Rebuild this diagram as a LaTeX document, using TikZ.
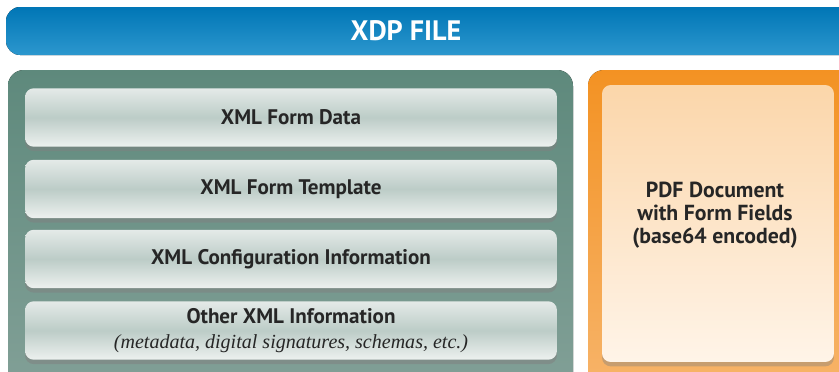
\documentclass[tikz,border=0pt]{standalone}
\usepackage{fontspec}
\setmainfont{PT Sans}
\newfontfamily\noteserif{Liberation Serif}
\usetikzlibrary{shadows}

\definecolor{barTop}{HTML}{0076B6}
\definecolor{barBot}{HTML}{2C97CE}
\definecolor{greenTop}{HTML}{5E897C}
\definecolor{greenBot}{HTML}{82A097}
\definecolor{layerTop}{HTML}{E4EAE8}
\definecolor{layerMid}{HTML}{BCCCC7}
\definecolor{layerBot}{HTML}{EDF1EF}
\definecolor{orangeTop}{HTML}{F39223}
\definecolor{orangeBot}{HTML}{F7B46A}
\definecolor{peachTop}{HTML}{FBD6AA}
\definecolor{peachBot}{HTML}{FFF4E8}
\definecolor{labelText}{HTML}{262626}

\tikzset{
  xdpbar/.style={rounded corners=8pt, top color=barTop, bottom color=barBot, draw=none},
  greenpanel/.style={rounded corners=9pt, top color=greenTop, bottom color=greenBot, draw=none},
  orangepanel/.style={rounded corners=9pt, top color=orangeTop, bottom color=orangeBot, draw=none},
  layerbox/.style={rounded corners=5pt, draw=none, minimum width=10.64cm, minimum height=1.17cm,
    top color=layerTop, bottom color=layerBot, middle color=layerMid,
    drop shadow={shadow xshift=0pt, shadow yshift=-2.5pt, opacity=0.5},
    font=\bfseries\fontsize{12}{13}\selectfont, text=labelText, align=center},
  pdfbox/.style={rounded corners=5pt, draw=none, minimum width=4.64cm, minimum height=5.54cm,
    top color=peachTop, bottom color=peachBot,
    drop shadow={shadow xshift=0pt, shadow yshift=-2.5pt, opacity=0.4},
    font=\bfseries\fontsize{12.4}{13}\selectfont, text=labelText, align=center},
}

\begin{document}
\begin{tikzpicture}[x=0.02cm, y=-0.02cm]
  \useasboundingbox (0,0) rectangle (839,372);
  \clip (0,0) rectangle (839,372);

  % top banner
  \fill[xdpbar] (6,7) rectangle (860,55);
  \node[font=\bfseries\fontsize{16}{18}\selectfont, text=white] (title) at (406,31) {XDP FILE};

  % left panel with the XML parts
  \fill[greenpanel] (8,70) rectangle (573,392);
  \node[layerbox] (formdata) at (291,117.5) {XML Form Data};
  \node[layerbox] (formtemplate) at (291,189) {XML Form Template};
  \node[layerbox] (configinfo) at (291,259) {XML Configuration Information};
  \node[layerbox] (otherinfo) at (291,330.5) {Other XML Information\\[1pt]
    {\noteserif\itshape\mdseries\fontsize{11.4}{12}\selectfont (metadata, digital signatures, schemas, etc.)}};

  % right panel with the PDF
  \fill[orangepanel] (588,70) rectangle (860,392);
  \node[pdfbox] (pdfdoc) at (718,223.5) {};
  \node[font=\bfseries\fontsize{12.4}{13}\selectfont, text=labelText, align=center]
    (pdflabel) at (715,215) {PDF Document\\with Form Fields\\(base64 encoded)};
\end{tikzpicture}
\end{document}
